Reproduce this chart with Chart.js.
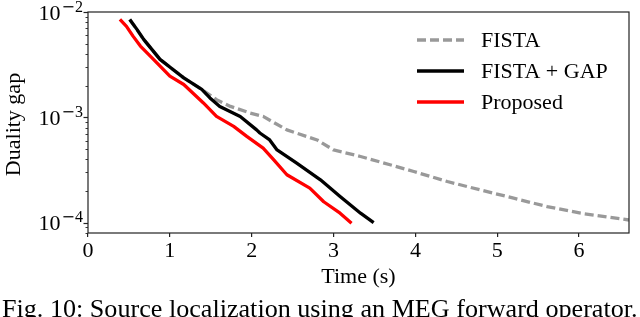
<!DOCTYPE html>
<html>
<head>
<meta charset="utf-8">
<script src="https://cdn.jsdelivr.net/npm/chart.js@4.4.1/dist/chart.umd.min.js"></script>
<style>
  html, body { margin: 0; padding: 0; background: #fff; overflow: hidden; }
  #wrap { position: relative; width: 640px; height: 317px; overflow: hidden; }
  canvas { position: absolute; left: 0; top: 0; }
  #caption { position: absolute; left: 2px; top: 0; white-space: nowrap; line-height: 1;
             font-family: "Liberation Serif", "Times New Roman", serif; color: #000; }
  #bl { display: inline-block; width: 0; height: 0; }
</style>
</head>
<body>
<div id="wrap">
  <canvas id="c" width="640" height="317"></canvas>
  <div id="caption">Fig. 10: Source localization using an MEG forward operator.<span id="bl"></span></div>
</div>
<script>
// ---- data ----
const seriesLabels = ["FISTA", "FISTA + GAP", "Proposed"];

const timeFista = [0.51,0.68,0.88,1.17,1.39,1.57,1.74,1.98,2.14,2.43,2.80,3.00,3.33,3.69,3.98,4.39,4.79,5.20,5.61,6.02,6.61];
const gapFista  = [8.5e-3,5.5e-3,3.55e-3,2.37e-3,1.84e-3,1.47e-3,1.27e-3,1.10e-3,1.02e-3,7.6e-4,6.1e-4,4.9e-4,4.25e-4,3.55e-4,3.06e-4,2.46e-4,2.05e-4,1.71e-4,1.42e-4,1.23e-4,1.06e-4];

const timeGap = [0.51,0.60,0.68,0.88,1.05,1.17,1.39,1.49,1.61,1.86,2.06,2.10,2.22,2.31,2.55,2.84,3.08,3.33,3.49];
const gapGap  = [8.5e-3,6.8e-3,5.5e-3,3.55e-3,2.8e-3,2.37e-3,1.84e-3,1.53e-3,1.27e-3,1.02e-3,7.6e-4,7.1e-4,6.1e-4,4.9e-4,3.67e-4,2.55e-4,1.77e-4,1.23e-4,1.0e-4];

const timeProp = [0.39,0.47,0.55,0.64,0.80,1.00,1.17,1.41,1.57,1.78,1.94,2.14,2.27,2.43,2.71,2.88,3.08,3.22];
const gapProp  = [8.5e-3,7.3e-3,5.9e-3,4.75e-3,3.55e-3,2.46e-3,2.05e-3,1.37e-3,1.02e-3,8.2e-4,6.6e-4,5.1e-4,3.95e-4,2.85e-4,2.13e-4,1.58e-4,1.23e-4,9.9e-5];

const xTickValues = [0, 1, 2, 3, 4, 5, 6];
const yMajorExponents = [-2, -3, -4];
const xLabel = "Time (s)";
const yLabel = "Duality gap";

const FONT = '"Liberation Serif", "Times New Roman", serif';
const toPts = (xs, ys) => xs.map((x, i) => ({ x: x, y: ys[i] }));

const overlay = {
  id: 'overlay',
  afterDraw(chart) {
    const ctx = chart.ctx;
    const a = chart.chartArea;
    const ys = chart.scales.y;
    ctx.save();
    // frame
    ctx.strokeStyle = '#222';
    ctx.lineWidth = 1.2;
    ctx.strokeRect(a.left, a.top, a.right - a.left, a.bottom - a.top);
    // y ticks (major + minor)
    ctx.fillStyle = '#000';
    for (let e = -5; e <= -2; e++) {
      for (let m = 1; m <= 9; m++) {
        const v = m * Math.pow(10, e);
        if (v < ys.min || v > ys.max) continue;
        const py = Math.round(ys.getPixelForValue(v)) + 0.5;
        const len = m === 1 ? 4.5 : 2.5;
        ctx.beginPath();
        ctx.moveTo(a.left - len, py);
        ctx.lineTo(a.left, py);
        ctx.lineWidth = m === 1 ? 1.2 : 0.9;
        ctx.stroke();
      }
    }
    // y tick labels 10^e
    ctx.textBaseline = 'alphabetic';
    ctx.textAlign = 'left';
    yMajorExponents.forEach(e => {
      const py = ys.getPixelForValue(Math.pow(10, e));
      const right = a.left - 5;
      const digit = String(Math.abs(e));
      ctx.font = '16px ' + FONT;
      const dw = ctx.measureText(digit).width;
      ctx.font = '16px "DejaVu Serif", serif';
      const mw = ctx.measureText('\u2212').width;
      const expLeft = right - dw - mw;
      ctx.fillText('\u2212', expLeft, py - 0.5);
      ctx.font = '16px ' + FONT;
      ctx.fillText(digit, right - dw, py - 0.5);
      ctx.font = '22px ' + FONT;
      const bw = ctx.measureText('10').width;
      ctx.fillText('10', expLeft - 1 - bw, py + 7.5);
    });
    // axis titles
    ctx.font = '22px ' + FONT;
    ctx.textAlign = 'center';
    ctx.fillText(xLabel, (a.left + a.right) / 2, 283);
    ctx.save();
    ctx.translate(20, (a.top + a.bottom) / 2 + 2);
    ctx.rotate(-Math.PI / 2);
    ctx.fillText(yLabel, 0, 0);
    ctx.restore();
    // legend
    const lx0 = a.right - 212, lx1 = a.right - 165, tx = a.right - 148;
    chart.data.datasets.forEach((ds, i) => {
      const ly = a.top + 28 + i * 31;
      ctx.beginPath();
      ctx.setLineDash(ds.borderDash || []);
      ctx.strokeStyle = ds.borderColor;
      ctx.lineWidth = ds.borderWidth;
      ctx.moveTo(lx0, ly);
      ctx.lineTo(lx1, ly);
      ctx.stroke();
      ctx.setLineDash([]);
      ctx.textAlign = 'left';
      ctx.textBaseline = 'middle';
      ctx.fillStyle = '#000';
      ctx.font = '22px ' + FONT;
      ctx.fillText(ds.label, tx, ly + 1);
    });
    ctx.restore();
  }
};

new Chart(document.getElementById('c'), {
  type: 'line',
  data: {
    datasets: [
      { label: seriesLabels[0], data: toPts(timeFista, gapFista), borderColor: '#999999',
        borderWidth: 3.3, borderDash: [9, 4], order: 3 },
      { label: seriesLabels[1], data: toPts(timeGap, gapGap), borderColor: '#000000',
        borderWidth: 3.3, order: 2 },
      { label: seriesLabels[2], data: toPts(timeProp, gapProp), borderColor: '#ff0000',
        borderWidth: 3.3, order: 1 }
    ]
  },
  options: {
    responsive: false,
    animation: false,
    events: [],
    layout: { padding: { top: 12, right: 11, left: 0, bottom: 0 } },
    elements: { point: { radius: 0 }, line: { tension: 0, borderCapStyle: 'butt', borderJoinStyle: 'round', fill: false } },
    plugins: { legend: { display: false }, tooltip: { enabled: false } },
    scales: {
      x: {
        type: 'linear', min: 0, max: 6.61,
        afterFit: s => { s.height = 84; },
        afterBuildTicks: s => { s.ticks = xTickValues.map(v => ({ value: v })); },
        ticks: { font: { family: FONT, size: 22 }, color: '#000', padding: 1, maxRotation: 0,
                 callback: v => String(v) },
        grid: { drawOnChartArea: false, drawTicks: true, tickLength: 4, color: '#222', lineWidth: 1.2 },
        border: { display: false }
      },
      y: {
        type: 'logarithmic', min: 7.98e-5, max: 1.0e-2,
        afterFit: s => { s.width = 88; },
        ticks: { display: false },
        grid: { display: false },
        border: { display: false }
      }
    }
  },
  plugins: [overlay]
});

// caption fit to the reference width, baseline near the bottom edge
(function () {
  const cap = document.getElementById('caption');
  const target = 636;
  let size = 22;
  cap.style.fontSize = size + 'px';
  const w = cap.getBoundingClientRect().width;
  size = size * target / w;
  cap.style.fontSize = size + 'px';
  cap.style.top = '0px';
  const baseline = document.getElementById('bl').getBoundingClientRect().bottom -
                   cap.getBoundingClientRect().top;
  cap.style.top = (316.5 - baseline) + 'px';
})();
</script>
</body>
</html>
